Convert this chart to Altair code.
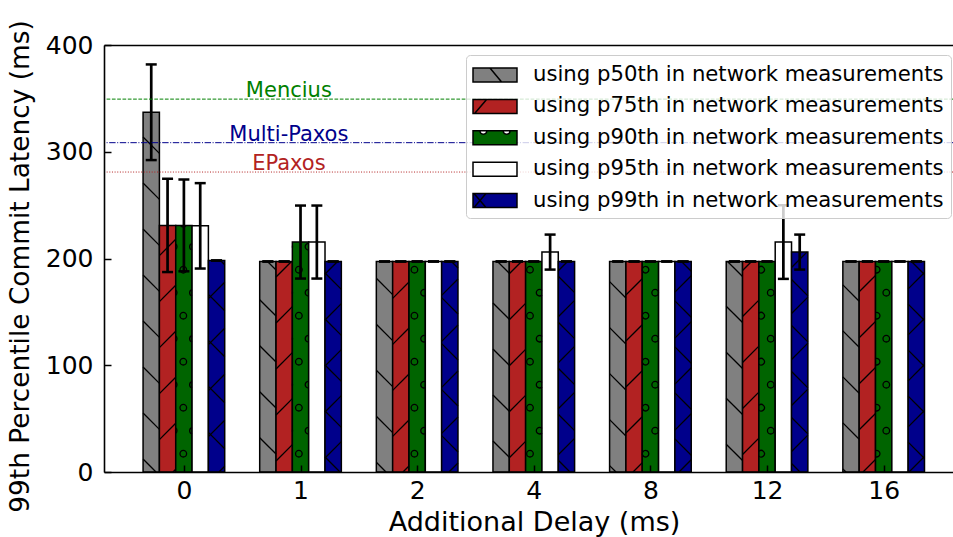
import json
import math

import altair as alt
import pandas as pd

# ---------------------------------------------------------------- data
delays = ["0", "1", "2", "4", "8", "12", "16"]
series = [
    "using p50th in network measurements",
    "using p75th in network measurements",
    "using p90th in network measurements",
    "using p95th in network measurements",
    "using p99th in network measurements",
]
# 99th percentile commit latency (ms) per additional delay
p50 = [337.0, 197.2, 197.2, 197.2, 197.2, 197.2, 197.2]
p75 = [231.0, 197.2, 197.2, 197.2, 197.2, 197.2, 197.2]
p90 = [231.0, 215.4, 197.2, 197.2, 197.2, 197.2, 197.2]
p95 = [230.6, 215.4, 197.2, 206.0, 197.2, 215.4, 197.2]
p99 = [198.1, 197.2, 197.2, 197.2, 197.2, 206.0, 197.2]
# error bar half-lengths (ms)
e50 = [44.8, 0, 0, 0, 0, 0, 0]
e75 = [43.7, 0, 0, 0, 0, 0, 0]
e90 = [43.0, 34.2, 0, 0, 0, 0, 0]
e95 = [40.0, 34.2, 0, 16.4, 0, 34.5, 0]
e99 = [0, 0, 0, 0, 0, 16.4, 0]

# reference protocols
baselines = ["Mencius", "Multi-Paxos", "EPaxos"]
baseline_ms = [349.3, 308.5, 281.0]

# ---------------------------------------------------------------- style
FONT = "DejaVu Sans"
fills = ["gray", "firebrick", "darkgreen", "white", "darkblue"]
baseline_colors = ["green", "darkblue", "firebrick"]
baseline_dashes = [[3.7, 1.6], [6.4, 1.6, 1.0, 1.6], [1.0, 1.65]]
hatch_kind = ["back", "fwd", "circle", "none", "cross"]

W, H = 849, 427
PAD = {"left": 104, "top": 45, "right": 0, "bottom": 65}
XMIN = -0.685
XMAX = XMIN + W / 116.63
YMAX = 400
BAR_W = 0.14
LABEL_X = 0.9
TICK_IN = 7  # length of the inward-pointing ticks

KX = W / (XMAX - XMIN)
KY = H / YMAX

# hatch geometry in screen pixels (relative to the plot origin)
HATCH_P = 46.0       # vertical repeat of the diagonal hatch lines
BACK_C = 7.0         # phase of "\" lines:  y - x = c
FWD_C = 36.0         # phase of "/" lines:  y + x = c
CIRC_R = 3.3
CIRC_ROW0 = 40.7
CIRC_COL0 = 79.3
CIRC_DX = 19.26


def to_px(u):
    return (u - XMIN) * KX


def to_py(v):
    return H - v * KY


def to_u(px):
    return px / KX + XMIN


def to_v(py):
    return (H - py) / KY


# ---------------------------------------------------------------- tables
values = [p50, p75, p90, p95, p99]
errors = [e50, e75, e90, e95, e99]
bar_rows = []
for si, name in enumerate(series):
    for g, delay in enumerate(delays):
        x0 = g + (si - 2.5) * BAR_W
        v = values[si][g]
        e = errors[si][g]
        bar_rows.append(
            dict(series=name, delay=delay, x0=x0, x1=x0 + BAR_W,
                 xc=x0 + BAR_W / 2, value=v, lo=v - e, hi=v + e,
                 kind=hatch_kind[si])
        )
bars_df = pd.DataFrame(bar_rows)

caps_df = pd.concat(
    [bars_df[["xc"]].assign(cap=bars_df["lo"]),
     bars_df[["xc"]].assign(cap=bars_df["hi"])],
    ignore_index=True,
)


def back_lines(xl, xr, yt, yb):
    segs = []
    k0 = math.floor((yt - xr - BACK_C) / HATCH_P) - 1
    k1 = math.ceil((yb - xl - BACK_C) / HATCH_P) + 1
    for k in range(k0, k1 + 1):
        c = BACK_C + HATCH_P * k
        xs, xe = max(xl, yt - c), min(xr, yb - c)
        if xe - xs > 0.5:
            segs.append((xs, xs + c, xe, xe + c))
    return segs


def fwd_lines(xl, xr, yt, yb):
    segs = []
    k0 = math.floor((xl + yt - FWD_C) / HATCH_P) - 1
    k1 = math.ceil((xr + yb - FWD_C) / HATCH_P) + 1
    for k in range(k0, k1 + 1):
        c = FWD_C + HATCH_P * k
        xs, xe = max(xl, c - yb), min(xr, c - yt)
        if xe - xs > 0.5:
            segs.append((xs, c - xs, xe, c - xe))
    return segs


def circle_arcs(cx, cy, xl, xr, yt, yb, n=240):
    inside = []
    for i in range(n):
        t = 2 * math.pi * i / n
        px = cx + CIRC_R * math.sin(t)
        py = cy - CIRC_R * math.cos(t)
        inside.append(xl <= px <= xr and yt <= py <= yb)
    if all(inside):
        return [(0.0, 2 * math.pi)]
    if not any(inside):
        return []
    start = inside.index(False)
    arcs, run = [], None
    for j in range(1, n + 1):
        i = (start + j) % n
        if inside[i] and run is None:
            run = start + j
        if (not inside[i] or j == n) and run is not None:
            a = 2 * math.pi * (run - 0.5) / n
            b = 2 * math.pi * (start + j - 0.5) / n
            arcs.append((a, b))
            run = None
    return arcs


seg_rows, arc_rows = [], []
for r in bar_rows:
    xl, xr = to_px(r["x0"]), to_px(r["x1"])
    yt, yb = to_py(r["value"]), to_py(0)
    segs = []
    if r["kind"] in ("back", "cross"):
        segs += back_lines(xl, xr, yt, yb)
    if r["kind"] in ("fwd", "cross"):
        segs += fwd_lines(xl, xr, yt, yb)
    for (ax, ay, bx, by) in segs:
        seg_rows.append(dict(x=to_u(ax), y=to_v(ay), x2=to_u(bx), y2=to_v(by)))
    if r["kind"] == "circle":
        k0 = math.floor((yt - CIRC_ROW0) / HATCH_P) - 1
        k1 = math.ceil((yb - CIRC_ROW0) / HATCH_P) + 1
        for k in range(k0, k1 + 1):
            for half in (0, 1):
                cy = CIRC_ROW0 + HATCH_P * k + half * HATCH_P / 2
                col0 = CIRC_COL0 + half * CIRC_DX / 2
                j0 = math.floor((xl - CIRC_R - col0) / CIRC_DX)
                j1 = math.ceil((xr + CIRC_R - col0) / CIRC_DX)
                for j in range(j0, j1 + 1):
                    cx = col0 + CIRC_DX * j
                    for (a, b) in circle_arcs(cx, cy, xl, xr, yt, yb):
                        arc_rows.append(dict(cx=to_u(cx), cy=to_v(cy), t0=a, t1=b))
seg_df = pd.DataFrame(seg_rows)
arc_df = pd.DataFrame(arc_rows)

ref_df = pd.DataFrame({"name": baselines, "ms": baseline_ms})

# legend patches: rectangle plus a hint of each hatch (unit = 12 px)
RECT = "M-1.833,-0.583H1.833V0.583H-1.833Z"
legend_paths = [
    RECT + "M-0.42,-0.583L0.55,0.583",
    RECT + "M-1.7,0.583L-0.7,-0.583",
    RECT + "M-1.25,-0.583A0.28,0.28 0 0 0 -0.69,-0.583"
    "M0.69,-0.583A0.28,0.28 0 0 0 1.25,-0.583",
    RECT,
    RECT + "M-1.75,-0.583L-0.75,0.583M-1.75,0.583L-0.75,-0.583",
]

# ---------------------------------------------------------------- chart
x_scale = alt.Scale(domain=[XMIN, XMAX], nice=False, zero=False)
y_scale = alt.Scale(domain=[0, YMAX], nice=False, zero=True)
label_expr = json.dumps(delays) + "[datum.value]"
inward = {"expr": str(-TICK_IN)}

x_axis = alt.Axis(
    orient="bottom", zindex=1,
    values=list(range(len(delays))), labelExpr=label_expr,
    ticks=True, tickSize=inward, tickWidth=1.5, tickColor="black",
    domain=True, domainColor="black", domainWidth=1.6, grid=False,
    labelFontSize=25, labelPadding=6 + TICK_IN, labelColor="black",
    title="Additional Delay (ms)", titleFontSize=27, titlePadding=6,
    titleX=430, titleColor="black", titleFontWeight="normal",
)
y_axis = alt.Axis(
    orient="left", zindex=1,
    values=[0, 100, 200, 300, 400],
    ticks=True, tickSize=inward, tickWidth=1.5, tickColor="black",
    domain=True, domainColor="black", domainWidth=1.6, grid=False,
    labelFontSize=25, labelPadding=11 + TICK_IN, labelColor="black",
    title="99th Percentile Commit Latency (ms)", titleFontSize=26.4,
    titlePadding=11, titleY=221, titleColor="black", titleFontWeight="normal",
)
top_axis = alt.Axis(
    orient="top", zindex=1, labels=False, ticks=False, domain=True,
    domainColor="black", domainWidth=1.6, grid=False, title=None,
)

legend = alt.Legend(
    title=None, orient="none", legendX=362, legendY=10,
    labelFontSize=21.2, labelFont=FONT, labelColor="black", labelLimit=0,
    symbolSize=576, symbolStrokeColor="black", symbolStrokeWidth=1.5,
    symbolOffset=9, labelOffset=25, rowPadding=7.4, padding=7,
    fillColor="rgba(255,255,255,0.8)", strokeColor="#cccccc",
    cornerRadius=4,
)

bars = alt.Chart(bars_df).mark_rect(stroke="black", strokeWidth=1.5).encode(
    x=alt.X("x0:Q", scale=x_scale, axis=x_axis),
    x2="x1:Q",
    y=alt.Y("value:Q", scale=y_scale, axis=y_axis),
    y2=alt.datum(0),
    fill=alt.Fill("series:N", scale=alt.Scale(domain=series, range=fills), legend=None),
)

hatch = alt.Chart(seg_df).mark_rule(color="black", strokeWidth=1.3).encode(
    x=alt.X("x:Q", scale=x_scale, axis=None),
    x2="x2:Q",
    y=alt.Y("y:Q", scale=y_scale, axis=None),
    y2="y2:Q",
)

circles = alt.Chart(arc_df).mark_arc(
    filled=False, stroke="black", strokeWidth=1.3,
    outerRadius=CIRC_R, innerRadius=CIRC_R,
).encode(
    x=alt.X("cx:Q", scale=x_scale, axis=top_axis),
    y=alt.Y("cy:Q", scale=y_scale, axis=None),
    theta=alt.Theta("t0:Q", scale=None, stack=None),
    theta2="t1:Q",
)

err = alt.Chart(bars_df).mark_rule(color="black", strokeWidth=2.7).encode(
    x=alt.X("xc:Q", scale=x_scale, axis=None),
    y=alt.Y("lo:Q", scale=y_scale, axis=None),
    y2="hi:Q",
)

caps = alt.Chart(caps_df).mark_tick(
    orient="horizontal", size=11, thickness=2.5, color="black", opacity=1
).encode(
    x=alt.X("xc:Q", scale=x_scale, axis=None),
    y=alt.Y("cap:Q", scale=y_scale, axis=None),
)

refs = alt.Chart(ref_df).mark_rule(strokeWidth=1).encode(
    y=alt.Y("ms:Q", scale=y_scale, axis=None),
    stroke=alt.Stroke("name:N", scale=alt.Scale(domain=baselines, range=baseline_colors), legend=None),
    strokeDash=alt.StrokeDash("name:N", scale=alt.Scale(domain=baselines, range=baseline_dashes), legend=None),
)

ref_labels = alt.Chart(ref_df).mark_text(
    fontSize=21, font=FONT, align="center", baseline="alphabetic", dy=-2
).encode(
    x=alt.XDatum(LABEL_X, scale=x_scale, axis=None),
    y=alt.Y("ms:Q", scale=y_scale, axis=None),
    text="name:N",
    fill=alt.Fill("name:N", scale=alt.Scale(domain=baselines, range=baseline_colors), legend=None),
)

# carrier for the legend (points are drawn with zero size)
legend_marks = alt.Chart(bars_df).mark_point(
    filled=True, size=0, opacity=1, stroke="black", strokeWidth=1.5
).encode(
    x=alt.X("xc:Q", scale=x_scale, axis=None),
    y=alt.Y("value:Q", scale=y_scale, axis=None),
    color=alt.Color("series:N", scale=alt.Scale(domain=series, range=fills), legend=legend),
    shape=alt.Shape("series:N", scale=alt.Scale(domain=series, range=legend_paths), legend=legend),
)

chart = (
    alt.layer(bars, hatch, circles, err, caps, refs, ref_labels, legend_marks)
    .resolve_axis(x="independent", y="independent")
    .resolve_scale(fill="independent", stroke="independent")
    .properties(
        width=W, height=H,
        autosize=alt.AutoSizeParams(type="none"),
        padding=PAD,
        background="white",
    )
    .configure(font=FONT)
    .configure_view(stroke=None)
)

chart.save("out.html", embed_options={"renderer": "svg", "actions": False})
